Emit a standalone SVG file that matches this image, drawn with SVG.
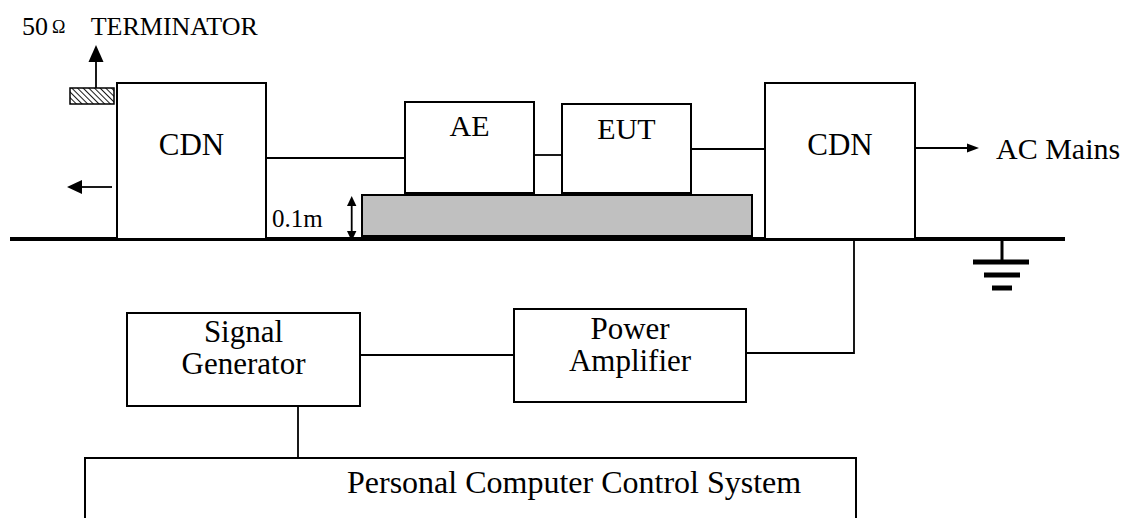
<svg xmlns="http://www.w3.org/2000/svg" width="1137" height="518" viewBox="0 0 1137 518">
<style>
  .box{fill:#fff;stroke:#000;stroke-width:2}
  .ln{fill:none;stroke:#000;stroke-width:1.8}
  .t{font-family:"Liberation Serif","Times New Roman",serif;fill:#000}
</style>
<defs>
  <pattern id="hatch" patternUnits="userSpaceOnUse" width="4" height="4" patternTransform="rotate(-45)">
    <rect width="4" height="4" fill="#fff"/>
    <line x1="0" y1="0" x2="0" y2="4" stroke="#000" stroke-width="1.8"/>
  </pattern>
</defs>
<rect width="1137" height="518" fill="#fff"/>

<g id="ground-plane">
  <line x1="10" y1="239" x2="1065" y2="239" stroke="#000" stroke-width="4"/>
</g>

<g id="table">
  <rect x="362" y="195" width="390" height="41" fill="#c0c0c0" stroke="#000" stroke-width="2"/>
</g>

<g id="terminator">
  <rect x="70" y="88" width="44" height="16" fill="url(#hatch)" stroke="#000" stroke-width="1.5"/>
  <text class="t" x="22" y="35" font-size="26">50</text>
  <text class="t" x="52" y="33" font-size="18">Ω</text>
  <text class="t" x="90.7" y="35" font-size="26">TERMINATOR</text>
</g>

<g id="cdn-left">
  <rect class="box" x="117" y="83" width="149" height="156"/>
  <text class="t" x="191.5" y="155" font-size="31" text-anchor="middle">CDN</text>
</g>

<g id="ae">
  <rect class="box" x="405" y="102" width="129" height="91"/>
  <text class="t" x="469.5" y="136" font-size="30" text-anchor="middle">AE</text>
</g>

<g id="eut">
  <rect class="box" x="562" y="104" width="129" height="89"/>
  <text class="t" x="626.5" y="139" font-size="30" text-anchor="middle">EUT</text>
</g>

<g id="cdn-right">
  <rect class="box" x="765" y="83" width="150" height="156"/>
  <text class="t" x="840" y="155" font-size="31" text-anchor="middle">CDN</text>
</g>

<g id="ac-mains">
  <text class="t" x="996" y="159" font-size="30">AC Mains</text>
</g>

<g id="earth">
  <line x1="1002" y1="239" x2="1002" y2="262" stroke="#000" stroke-width="3"/>
  <line x1="973" y1="262" x2="1029" y2="262" stroke="#000" stroke-width="5"/>
  <line x1="984" y1="275" x2="1020" y2="275" stroke="#000" stroke-width="5"/>
  <line x1="992" y1="288" x2="1012" y2="288" stroke="#000" stroke-width="5"/>
</g>

<g id="height-label">
  <text class="t" x="272" y="227" font-size="25">0.1m</text>
</g>

<g id="signal-generator">
  <rect class="box" x="127" y="313" width="233" height="93"/>
  <text class="t" x="243.5" y="342" font-size="31" text-anchor="middle">Signal</text>
  <text class="t" x="243.5" y="374" font-size="31" text-anchor="middle">Generator</text>
</g>

<g id="power-amplifier">
  <rect class="box" x="514" y="309" width="232" height="93"/>
  <text class="t" x="630" y="339" font-size="31" text-anchor="middle">Power</text>
  <text class="t" x="630" y="371" font-size="31" text-anchor="middle">Amplifier</text>
</g>

<g id="pc-control">
  <rect class="box" x="85" y="458" width="771" height="80"/>
  <text class="t" x="347" y="493" font-size="32">Personal Computer Control System</text>
</g>

<g id="connectors">
  <line class="ln" x1="96" y1="88" x2="96" y2="60"/>
  <polygon points="96,45 88.5,62 103.5,62" fill="#000"/>
  <line class="ln" x1="112" y1="187" x2="80" y2="187"/>
  <polygon points="67,187 82,180 82,194" fill="#000"/>
  <line class="ln" x1="266" y1="158" x2="405" y2="158"/>
  <line class="ln" x1="534" y1="155" x2="562" y2="155"/>
  <line class="ln" x1="691" y1="149" x2="765" y2="149"/>
  <line class="ln" x1="915" y1="148" x2="970" y2="148"/>
  <polygon points="979,148 967,143.5 967,152.5" fill="#000"/>
  <line class="ln" x1="351.7" y1="203" x2="351.7" y2="234"/>
  <polygon points="351.7,196 347,206 356.4,206" fill="#000"/>
  <polygon points="351.7,241 347,231 356.4,231" fill="#000"/>
  <line class="ln" x1="360" y1="355" x2="514" y2="355"/>
  <polyline class="ln" points="746,353 854,353 854,239"/>
  <line class="ln" x1="298" y1="406" x2="298" y2="458"/>
</g>
</svg>
